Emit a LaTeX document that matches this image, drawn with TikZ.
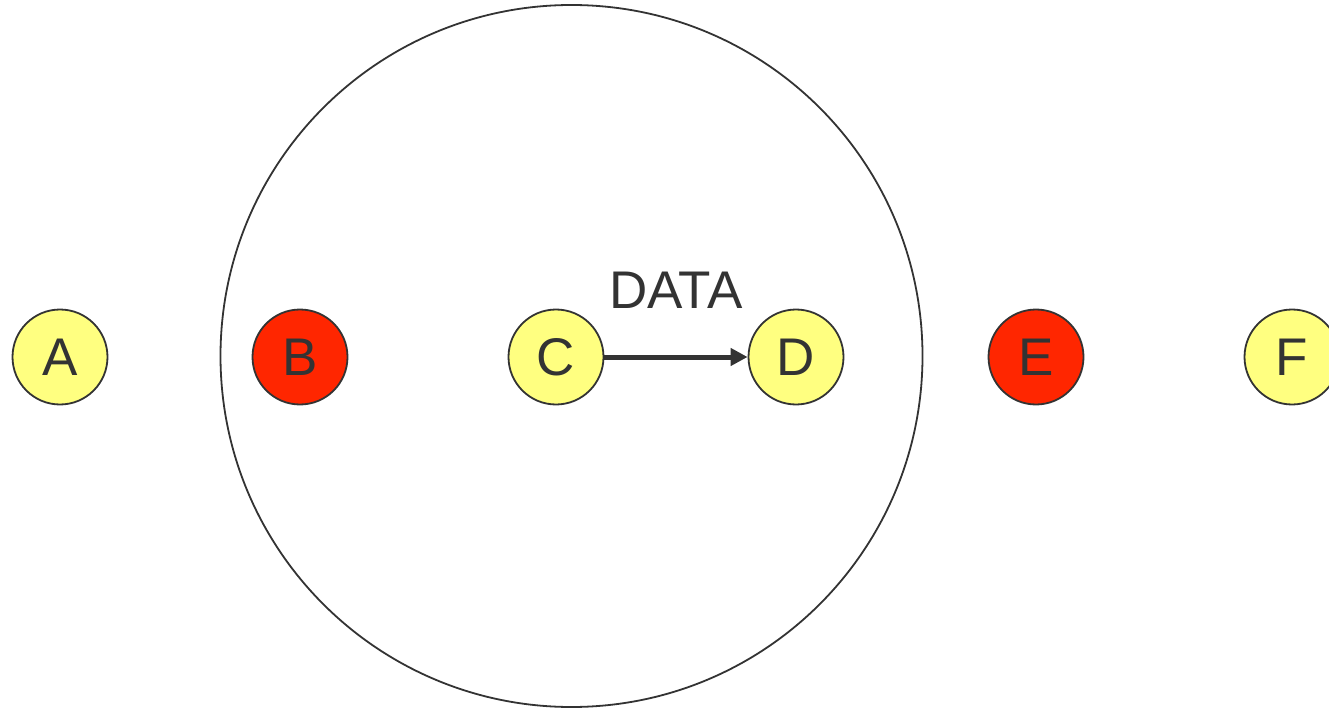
\documentclass[tikz,border=0pt]{standalone}
\usepackage{fontspec}
\setmainfont{Liberation Sans}
\usetikzlibrary{arrows.meta}
\definecolor{nodeyellow}{RGB}{255,255,128}
\definecolor{nodered}{RGB}{255,38,0}
\definecolor{ink}{RGB}{51,51,51}
\tikzset{
  dot/.style={circle, draw=ink, line width=1.8pt, minimum size=95pt, inner sep=0pt, text=ink, font=\fontsize{53}{60}\selectfont},
  yel/.style={dot, fill=nodeyellow},
  rd/.style={dot, fill=nodered},
}
\begin{document}
\begin{tikzpicture}[x=1pt,y=-1pt]
\useasboundingbox (0,0) rectangle (1329,708);
\begin{scope}
\clip (0,0) rectangle (1329,708);
\node[circle, draw=ink, line width=1.8pt, minimum size=702pt, inner sep=0pt] (big) at (571.5,356) {};
\node[yel] (A) at (60,357) {A};
\node[rd] (B) at (300,357) {B};
\node[yel] (C) at (556,357) {C};
\node[yel] (D) at (796,357) {D};
\node[rd] (E) at (1036,357) {E};
\node[yel] (F) at (1292,357) {F};
\draw[ink, line width=5pt, -{Triangle[length=17pt,width=17pt]}] (C) -- (D);
\node[text=ink, font=\fontsize{53}{60}\selectfont] (data) at (676,290) {DATA};
\end{scope}
\end{tikzpicture}
\end{document}
